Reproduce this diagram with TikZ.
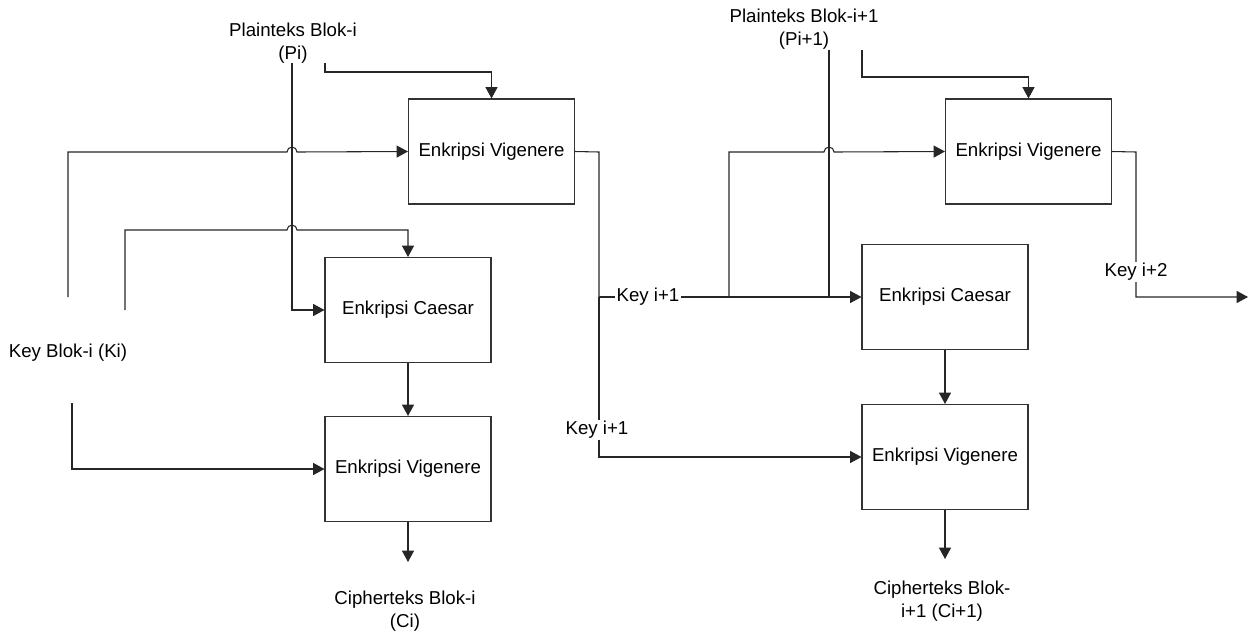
\documentclass[tikz,border=0pt]{standalone}
\usepackage{fontspec}
\setmainfont{Liberation Sans}
\usetikzlibrary{arrows.meta}
\begin{document}
\begin{tikzpicture}[x=0.75pt,y=-0.75pt,
  line/.style={draw=black!85, line width=0.8pt},
  arr/.style={line, -{Triangle[length=8.5pt,width=9pt]}},
  box/.style={draw=black!80, line width=0.8pt, minimum width=124.5pt, minimum height=78.75pt, inner sep=0pt, font=\fontsize{14pt}{18pt}\selectfont},
  lbl/.style={align=center, inner sep=1pt, font=\fontsize{14pt}{17.5pt}\selectfont},
  klbl/.style={fill=white, inner sep=1pt, font=\fontsize{14pt}{17pt}\selectfont}]
\useasboundingbox (0,0) rectangle (1255,640);
% boxes
\node[box] (v1) at (491.5,151.5) {Enkripsi Vigenere};
\node[box] (c1) at (408,310) {Enkripsi Caesar};
\node[box] (v2) at (408,469) {Enkripsi Vigenere};
\node[box] (v3) at (1028.5,151.5) {Enkripsi Vigenere};
\node[box] (c2) at (945,297) {Enkripsi Caesar};
\node[box] (v4) at (945,457) {Enkripsi Vigenere};
% labels
\node[lbl] (pi) at (293,43) {Plainteks Blok-i\\(Pi)};
\node[lbl] (pi1) at (804,29) {Plainteks Blok-i+1\\(Pi+1)};
\node[lbl] (ki) at (68,353) {Key Blok-i (Ki)};
\node[lbl] (ci) at (405,611) {Cipherteks Blok-i\\(Ci)};
\node[lbl] (ci1) at (942,601) {Cipherteks Blok-\\i+1 (Ci+1)};
% coordinates
\coordinate (pis) at (292,63);
\coordinate (pjs) at (325,63);
\coordinate (k1s) at (68,297);
\coordinate (k2s) at (125,310);
\coordinate (k3s) at (72,403);
\coordinate (cio) at (408,562);
\coordinate (p1s) at (829,50);
\coordinate (p2s) at (862,50);
\coordinate (ci1o) at (945,559);
\coordinate (k2o) at (1248,297);
% left block
\draw[arr] (pis) |- (c1.west);
\draw[arr] (pjs) -- (325,72) -| (v1.north);
\draw[arr] (k1s) -- (68,152) -- (287,152) arc[start angle=180,end angle=360,radius=5] -- (v1.west);
\draw[arr] (k2s) -- (125,230) -- (287,230) arc[start angle=180,end angle=360,radius=5] -| (c1.north);
\draw[arr] (k3s) |- (v2.west);
\draw[arr] (c1.south) -- (v2.north);
\draw[arr] (v2.south) -- (cio);
% middle key
\draw[line] (v1.east) -- (599,152) -- (599,297);
\draw[arr] (599,297) |- (v4.west);
\draw[arr] (599,297) -- (c2.west);
\draw[arr] (729,297) -- (729,152) -- (824,152) arc[start angle=180,end angle=360,radius=5] -- (v3.west);
\draw[line] (p1s) -- (829,297);
\draw[arr] (p2s) -- (862,77) -| (v3.north);
\draw[arr] (c2.south) -- (v4.north);
\draw[arr] (v4.south) -- (ci1o);
\draw[arr] (v3.east) -- (1136,152) |- (k2o);
% key labels
\node[klbl] (ka) at (648,297) {Key i+1};
\node[klbl] (kb) at (597,430) {Key i+1};
\node[klbl] (kc) at (1136,272) {Key i+2};
\end{tikzpicture}
\end{document}
